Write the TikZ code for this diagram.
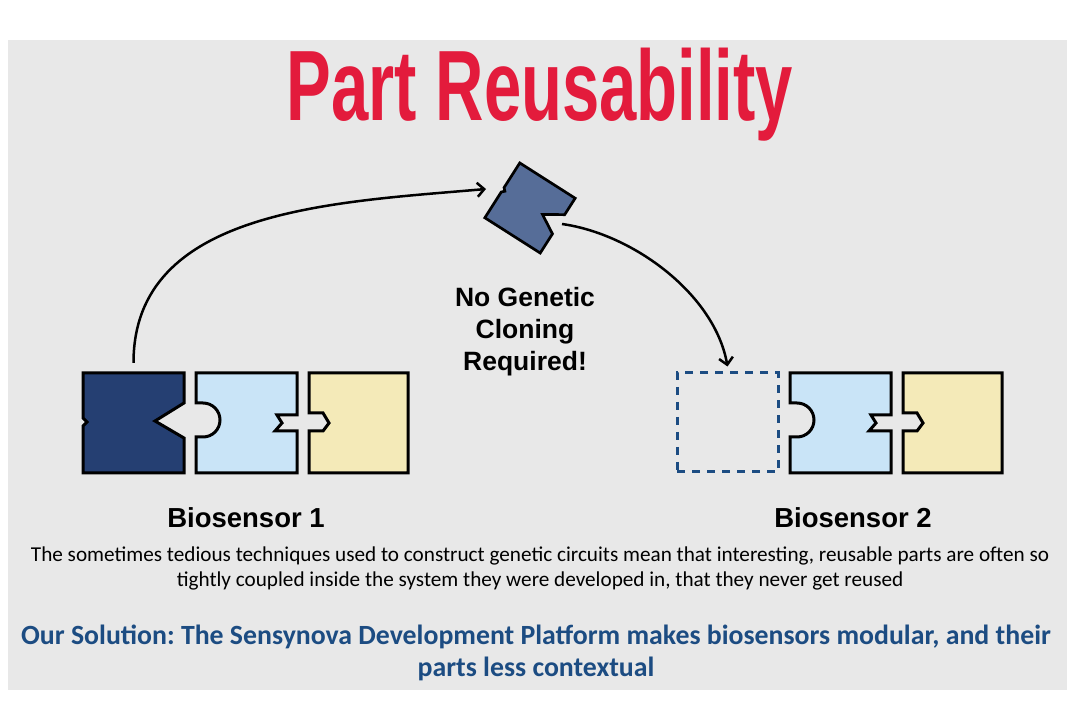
\documentclass[tikz,border=0pt]{standalone}
\usepackage{fontspec}
\setmainfont{Carlito}
\newfontfamily\arialf{Liberation Sans}
\usetikzlibrary{arrows.meta}
\frenchspacing
\definecolor{bg}{HTML}{E8E8E8}
\definecolor{navy}{HTML}{253F72}
\definecolor{midblue}{HTML}{566D98}
\definecolor{lblue}{HTML}{C9E4F7}
\definecolor{lyellow}{HTML}{F4EAB8}
\definecolor{titlered}{HTML}{E31B3C}
\definecolor{dblue}{HTML}{1C4C82}
\begin{document}
\begin{tikzpicture}[x=1pt,y=-1pt,
  piece/.style={draw=black,line width=3pt,line join=miter},
  box/.style={draw=none,inner sep=0pt,minimum width=101pt,minimum height=100pt},
  conn/.style={line width=2.5pt,-{Straight Barb[length=7pt,width=14pt]}},
  dashbox/.style={draw=dblue,line width=3pt,dash pattern=on 8pt off 7pt,inner sep=0pt,minimum width=101pt,minimum height=99pt},
  lab/.style={font=\arialf\bfseries\fontsize{27.5}{33}\selectfont,inner sep=0pt,anchor=base},
  darkpiece/.pic={
    \path[piece,fill=navy] (0,0) -- (101,0) -- (101,30) -- (72,48) -- (101,65) -- (101,100)
      -- (0,100) -- (0,53) -- (4,49) -- (0,45) -- cycle;
    \node[box] (-b) at (50.5,50) {};
  },
  bluepiece/.pic={
    \path[piece,fill=lblue] (0,0) -- (101,0) -- (101,42) -- (81,42) -- (86,50) -- (79,58)
      -- (101,58) -- (101,100) -- (0,100) -- (0,64) -- (7,64)
      .. controls (16.4,64) and (24,56.4) .. (24,47)
      .. controls (24,37.6) and (16.4,30) .. (7,30) -- (0,30) -- cycle;
    \node[box] (-b) at (50.5,50) {};
  },
  yellowpiece/.pic={
    \path[piece,fill=lyellow] (0,0) -- (99,0) -- (99,100) -- (0,100) -- (0,58) -- (14,58)
      -- (20,50) -- (14,40) -- (0,40) -- cycle;
    \node[box] (-b) at (49.5,50) {};
  }]
\useasboundingbox (0,0) rectangle (1080,703);
\fill[white] (0,0) rectangle (1080,703);
\fill[bg] (8,40) rectangle (1067,690);

% title
\node[anchor=base,inner sep=0pt,text=titlered] (title) at (540,121)
  {\scalebox{0.67}[1]{\arialf\bfseries\fontsize{100}{100}\selectfont Part Reusability}};

% biosensor 1
\pic (d1) at (83,373) {darkpiece};
\pic (b1) at (196,373) {bluepiece};
\pic (y1) at (309,373) {yellowpiece};

% biosensor 2
\node[dashbox] (e2) at (727.5,422.5) {};
\pic (b2) at (790,373) {bluepiece};
\pic (y2) at (903,373) {yellowpiece};

% moved part (rotated copy of the dark part)
\begin{scope}[shift={(530,208)},rotate=-32.5,scale=0.65]
  \path[piece,line width=2.7pt,fill=midblue] (-50.5,-50) -- (50.5,-50) -- (50.5,-20) -- (21.5,-2)
    -- (50.5,15) -- (50.5,50) -- (-50.5,50) -- (-50.5,3) -- (-46.5,-1) -- (-50.5,-5) -- cycle;
\end{scope}
\coordinate (a1e) at (486,189);
\coordinate (a2s) at (562,224);

\draw[conn] ([yshift=10pt]d1-b.north) to[out=90,in=185] (a1e);
\draw[conn] (a2s) to[out=-8,in=100,looseness=0.85] ([yshift=5pt]e2.north);

\node[font=\arialf\bfseries\fontsize{26.5}{32}\selectfont,align=center,anchor=north,inner sep=0pt] (ng) at (525,287)
  {No Genetic\\Cloning\\Required!};

\node[lab] (l1) at (246,527) {Biosensor 1};
\node[lab] (l2) at (853,527) {Biosensor 2};

\node[font=\fontsize{21.2}{24.5}\selectfont,align=center,anchor=north,inner sep=0pt] (body) at (540,547)
  {The sometimes tedious techniques used to construct genetic circuits mean that interesting, reusable parts are often so\\
   tightly coupled inside the system they were developed in, that they never get reused};

\node[font=\bfseries\fontsize{27.8}{32}\selectfont,text=dblue,align=center,anchor=north,inner sep=0pt] (sol) at (536,625)
  {Our Solution: The Sensynova Development Platform makes biosensors modular, and their\\
   parts less contextual};
\end{tikzpicture}
\end{document}
